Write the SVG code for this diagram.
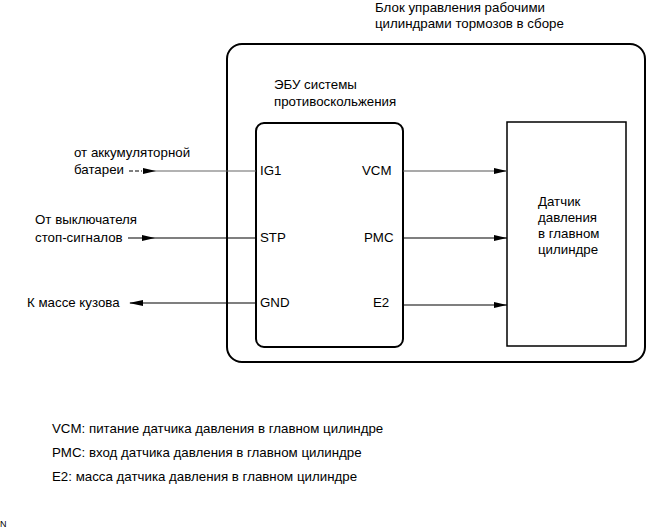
<svg xmlns="http://www.w3.org/2000/svg" width="651" height="530" viewBox="0 0 651 530">
<style>
text{font-family:"Liberation Sans",Arial,sans-serif;font-size:13.3px;fill:#000}
.box{fill:none;stroke:#000;stroke-width:2}
.ln{stroke:#000;stroke-width:1.2;fill:none}
.ah{fill:#000}
</style>
<rect width="651" height="530" fill="#fff"/>
<g id="title">
<text x="375" y="12">Блок управления рабочими</text>
<text x="375" y="28">цилиндрами тормозов в сборе</text>
</g>
<g id="assembly">
<rect class="box" x="227" y="44" width="418" height="318" rx="15"/>
</g>
<g id="ecu">
<text x="274" y="89">ЭБУ системы</text>
<text x="274" y="106">противоскольжения</text>
<rect class="box" x="256" y="123" width="147" height="224" rx="8"/>
<text x="260" y="175">IG1</text>
<text x="260" y="242">STP</text>
<text x="260" y="307">GND</text>
<text x="362" y="175">VCM</text>
<text x="364" y="242">PMC</text>
<text x="373" y="307">E2</text>
</g>
<g id="sensor">
<rect class="box" x="507" y="122" width="119" height="224" style="stroke-width:1.5"/>
<text x="538" y="206">Датчик</text>
<text x="538" y="222">давления</text>
<text x="538" y="238">в главном</text>
<text x="538" y="254">цилиндре</text>
</g>
<g id="labels">
<text x="74" y="157">от аккумуляторной</text>
<text x="74" y="174">батареи</text>
<text x="35" y="224">От выключателя</text>
<text x="35" y="242">стоп-сигналов</text>
<text x="27" y="307">К массе кузова</text>
</g>
<g id="connectors">
<line class="ln" x1="129" y1="171" x2="142" y2="171" stroke-dasharray="4,2"/>
<line class="ln" x1="143" y1="171" x2="256" y2="171" style="stroke:#666"/>
<polygon class="ah" points="143,168 156,171 143,174"/>
<line class="ln" x1="128" y1="238" x2="256" y2="238"/>
<polygon class="ah" points="142,235 155,238 142,241"/>
<line class="ln" x1="130" y1="303" x2="256" y2="303"/>
<polygon class="ah" points="129,303 143,300 143,306"/>
<line class="ln" x1="403" y1="171" x2="507" y2="171" style="stroke:#555"/>
<polygon class="ah" points="494,168 507,171 494,174"/>
<line class="ln" x1="403" y1="238" x2="507" y2="238"/>
<polygon class="ah" points="494,235 507,238 494,241"/>
<line class="ln" x1="403" y1="305" x2="507" y2="305"/>
<polygon class="ah" points="494,302 507,305 494,308"/>
</g>
<g id="legend">
<text x="52" y="433">VCM: питание датчика давления в главном цилиндре</text>
<text x="52" y="457">PMC: вход датчика давления в главном цилиндре</text>
<text x="52" y="481">E2: масса датчика давления в главном цилиндре</text>
</g>
<text x="0" y="527" style="font-size:9px">N</text>
</svg>
